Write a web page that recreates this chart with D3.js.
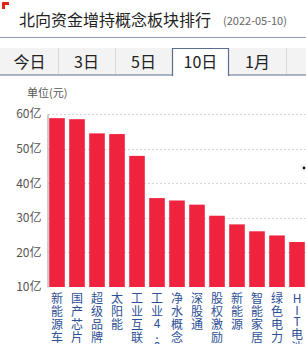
<!DOCTYPE html>
<html><head><meta charset="utf-8">
<script src="https://cdn.jsdelivr.net/npm/d3@7"></script>
<style>
html,body{margin:0;padding:0;background:#fff;}
svg{display:block;font-family:"Noto Sans CJK SC","Noto Sans",sans-serif;}
</style></head>
<body><svg id="c" width="306" height="344"></svg>
<script>
const title = "北向资金增持概念板块排行";
const dateLabel = "(2022-05-10)";
const tabs = ["今日","3日","5日","10日","1月"];
const activeTab = "10日";
const unitLabel = "单位(元)";
const categories = ["新能源车","国产芯片","超级品牌","太阳能","工业互联","工业4.0","净水概念","深股通","股权激励","新能源","智能家居","绿色电力","HIT电池"];
const values = [58.8,58.5,54.4,54.2,47.9,35.7,35.0,33.8,30.6,28.1,26.1,24.9,23.0];
const yTicks = [10,20,30,40,50,60];

const svg = d3.select("#c");

// corner mark
svg.append("path").attr("d","M3.5,9 V3.5 H9").attr("fill","none").attr("stroke","#e0241b").attr("stroke-width",3);

svg.append("text").attr("x",19).attr("y",26).attr("font-size",16).attr("fill","#222").text(title);
svg.append("text").attr("x",223).attr("y",25).attr("font-size",11).attr("fill","#666").text(dateLabel);
svg.append("line").attr("x1",0).attr("x2",306).attr("y1",37.5).attr("y2",37.5).attr("stroke","#8d9aab").attr("stroke-width",1);

// tabs
const tabW = 57;
const tx = d3.scaleBand().domain(tabs).range([1, 1 + tabW * tabs.length]);
svg.append("rect").attr("x",0).attr("y",48).attr("width",306).attr("height",27).attr("fill","#f3f3f3");
svg.append("line").attr("x1",0).attr("x2",306).attr("y1",75).attr("y2",75).attr("stroke","#5a6f8f").attr("stroke-width",1.2);
tabs.forEach(t => {
  const x0 = tx(t);
  if (t === activeTab) {
    svg.append("rect").attr("x",x0).attr("y",48).attr("width",tabW).attr("height",28).attr("fill","#fff");
    svg.append("path").attr("d",`M${x0+0.5},76 V48.5 H${x0+tabW-0.5} V76`).attr("fill","none").attr("stroke","#5a6f8f").attr("stroke-width",1.2);
  } else {
    svg.append("line").attr("x1",x0+tabW+0.5).attr("x2",x0+tabW+0.5).attr("y1",48).attr("y2",74).attr("stroke","#d8d8d8");
  }
  svg.append("text").attr("x",x0+tabW/2).attr("y",68).attr("text-anchor","middle").attr("font-size",16).attr("fill","#222").text(t);
});

// chart
const y = d3.scaleLinear().domain([10,60]).range([287,114]);
const x = d3.scaleBand().domain(categories).range([47,307]).paddingInner(0.22).paddingOuter(0.11);

svg.append("text").attr("x",27).attr("y",97).attr("font-size",11).attr("fill","#555").text(unitLabel);

// grid
svg.append("g").selectAll("line").data(yTicks.slice(1)).join("line")
  .attr("x1",48).attr("x2",306).attr("y1",d=>Math.round(y(d))+0.5).attr("y2",d=>Math.round(y(d))+0.5)
  .attr("stroke","#d4d4d4").attr("stroke-dasharray","2,2");

const yAxis = svg.append("g").attr("transform","translate(47.5,0)")
  .call(d3.axisLeft(y).tickValues(yTicks).tickSize(0).tickPadding(6).tickFormat(d=>d+"亿"));
yAxis.select(".domain").attr("stroke","#999");
yAxis.selectAll("text").attr("font-size",12).attr("fill","#555").attr("font-family","\"Noto Sans CJK SC\",sans-serif");

svg.append("g").selectAll("rect").data(values).join("rect")
  .attr("x",(d,i)=>x(categories[i])).attr("width",x.bandwidth())
  .attr("y",d=>y(d)).attr("height",d=>y(10)-y(d)).attr("fill","#f0233f");

// vertical labels
const lab = svg.append("g");
categories.forEach(c => {
  const t = lab.append("text").attr("text-anchor","middle").attr("font-size",12).attr("fill","#2d4f96");
  let yy = 303;
  Array.from(c).forEach((ch,j) => {
    const cjk = /[\u4e00-\u9fff]/.test(ch);
    if (j > 0) yy += cjk ? 13 : 11.5;
    t.append("tspan").attr("x", x(c) + x.bandwidth()/2).attr("y", yy).text(ch);
  });
});

// small dot at right edge
svg.append("circle").attr("cx",304).attr("cy",168).attr("r",3).attr("fill","none").attr("stroke","#eee");
svg.append("circle").attr("cx",304).attr("cy",168).attr("r",1.4).attr("fill","#111");
</script></body></html>
